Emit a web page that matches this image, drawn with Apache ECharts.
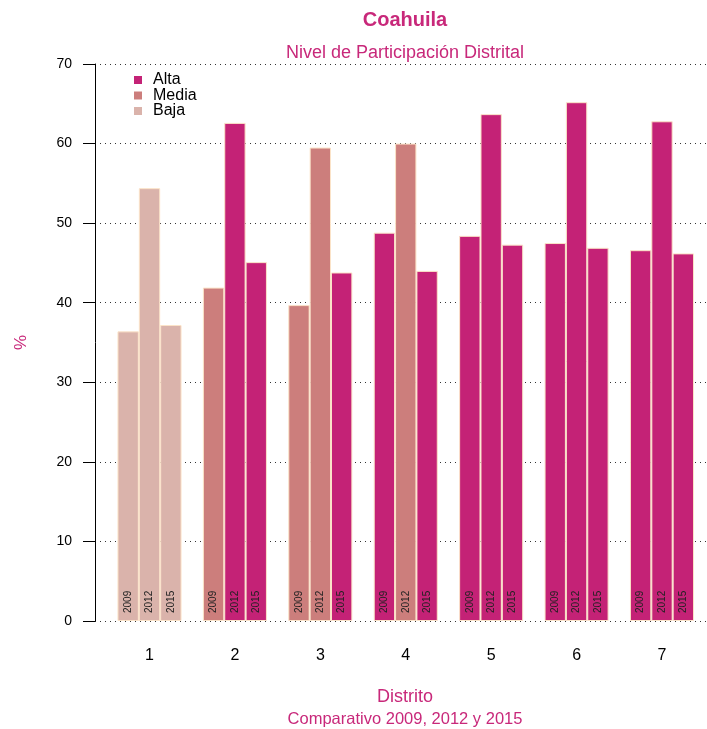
<!DOCTYPE html>
<html>
<head>
<meta charset="utf-8">
<script src="https://cdn.jsdelivr.net/npm/echarts@6/dist/echarts.min.js"></script>
<style>html,body{margin:0;padding:0;background:#fff;}#c{width:707px;height:729px;}</style>
</head>
<body>
<div id="c"></div>
<script>
var districts = ['1', '2', '3', '4', '5', '6', '7'];
var years = ['2009', '2012', '2015'];
var levelNames = ['Alta', 'Media', 'Baja'];
var levelColors = ['#C42276', '#CC7E7C', '#DAB3AB'];
var v2009 = [36.4, 41.9, 39.7, 48.8, 48.4, 47.5, 46.6];
var v2012 = [54.4, 62.6, 59.5, 60.0, 63.7, 65.2, 62.8];
var v2015 = [37.2, 45.1, 43.8, 44.0, 47.3, 46.9, 46.2];
var lvl2009 = ['Baja', 'Media', 'Media', 'Alta', 'Alta', 'Alta', 'Alta'];
var lvl2012 = ['Baja', 'Alta', 'Media', 'Media', 'Alta', 'Alta', 'Alta'];
var lvl2015 = ['Baja', 'Alta', 'Alta', 'Alta', 'Alta', 'Alta', 'Alta'];
var yTicks = [0, 10, 20, 30, 40, 50, 60, 70];

var pink = '#C8287A';
var font = 'Liberation Sans, Arial, Helvetica, sans-serif';

function colorOf(l) { return levelColors[levelNames.indexOf(l)]; }

function yearSeries(name, vals, lvls) {
  return {
    name: name,
    type: 'bar',
    xAxisIndex: 0, yAxisIndex: 0,
    barGap: '0%',
    barCategoryGap: '25%',
    data: vals.map(function (v, i) {
      return { value: v, itemStyle: { color: colorOf(lvls[i]) } };
    }),
    itemStyle: { borderColor: '#FBE3C8', borderWidth: 1 },
    label: {
      show: true,
      position: 'insideBottom',
      distance: 8,
      rotate: 90,
      align: 'left',
      verticalAlign: 'middle',
      formatter: name,
      fontSize: 10,
      color: '#222',
      fontFamily: font
    },
    emphasis: { disabled: true },
    silent: true
  };
}

var series = [
  yearSeries(years[0], v2009, lvl2009),
  yearSeries(years[1], v2012, lvl2012),
  yearSeries(years[2], v2015, lvl2015)
];
// legend-only entries, on the auxiliary axis grid so they take no bar slots
levelNames.forEach(function (n, i) {
  series.push({ name: n, type: 'bar', xAxisIndex: 1, yAxisIndex: 1, data: [], itemStyle: { color: levelColors[i] } });
});

var chart = echarts.init(document.getElementById('c'), null, { renderer: 'canvas' });
chart.setOption({
  animation: false,
  backgroundColor: '#fff',
  textStyle: { fontFamily: font },
  legend: {
    data: levelNames,
    orient: 'vertical',
    left: 129,
    top: 67,
    icon: 'rect',
    itemWidth: 8,
    itemHeight: 8,
    itemGap: -0.5,
    itemStyle: { borderWidth: 0 },
    textStyle: { fontSize: 16, lineHeight: 15.5, color: '#000', fontFamily: font, padding: [0, 0, 0, 6] },
    selectedMode: false
  },
  grid: [
    { left: 106.8, right: 2.3, top: 64, bottom: 108 },
    { left: 95, right: 0, top: 64, bottom: 108 }
  ],
  xAxis: [
    {
      gridIndex: 0, type: 'category', data: districts,
      axisLine: { show: false }, axisTick: { show: false },
      axisLabel: { fontSize: 16, color: '#000', margin: 27, fontFamily: font }
    },
    { gridIndex: 1, type: 'category', data: ['x'], show: false }
  ],
  yAxis: [
    { gridIndex: 0, type: 'value', min: 0, max: 70, interval: 10, show: false, splitLine: { show: false } },
    {
      gridIndex: 1, type: 'value', min: 0, max: 70, interval: 10,
      name: '%', nameLocation: 'middle', nameGap: 65, nameRotate: 90,
      nameTextStyle: { color: pink, fontSize: 17, fontFamily: font },
      axisLine: { show: true, lineStyle: { color: '#000', width: 1 } },
      axisTick: { show: true, length: 12, inside: false, lineStyle: { color: '#000' } },
      axisLabel: { fontSize: 14, color: '#000', margin: 23, fontFamily: font },
      splitLine: { show: true, lineStyle: { type: [1, 4], color: '#333', width: 1 } }
    }
  ],
  graphic: [
    { type: 'text', silent: true,
      style: { text: 'Coahuila', x: 405, y: 20, textAlign: 'center', textVerticalAlign: 'middle', fill: pink, font: 'bold 20px ' + font } },
    { type: 'text', silent: true,
      style: { text: 'Nivel de Participación Distrital', x: 405, y: 53, textAlign: 'center', textVerticalAlign: 'middle', fill: pink, font: '18px ' + font } },
    { type: 'text', silent: true,
      style: { text: 'Distrito', x: 405, y: 697, textAlign: 'center', textVerticalAlign: 'middle', fill: pink, font: '18px ' + font } },
    { type: 'text', silent: true,
      style: { text: 'Comparativo 2009, 2012 y 2015', x: 405, y: 719, textAlign: 'center', textVerticalAlign: 'middle', fill: pink, font: '16.5px ' + font } }
  ],
  series: series
});
</script>
</body>
</html>
